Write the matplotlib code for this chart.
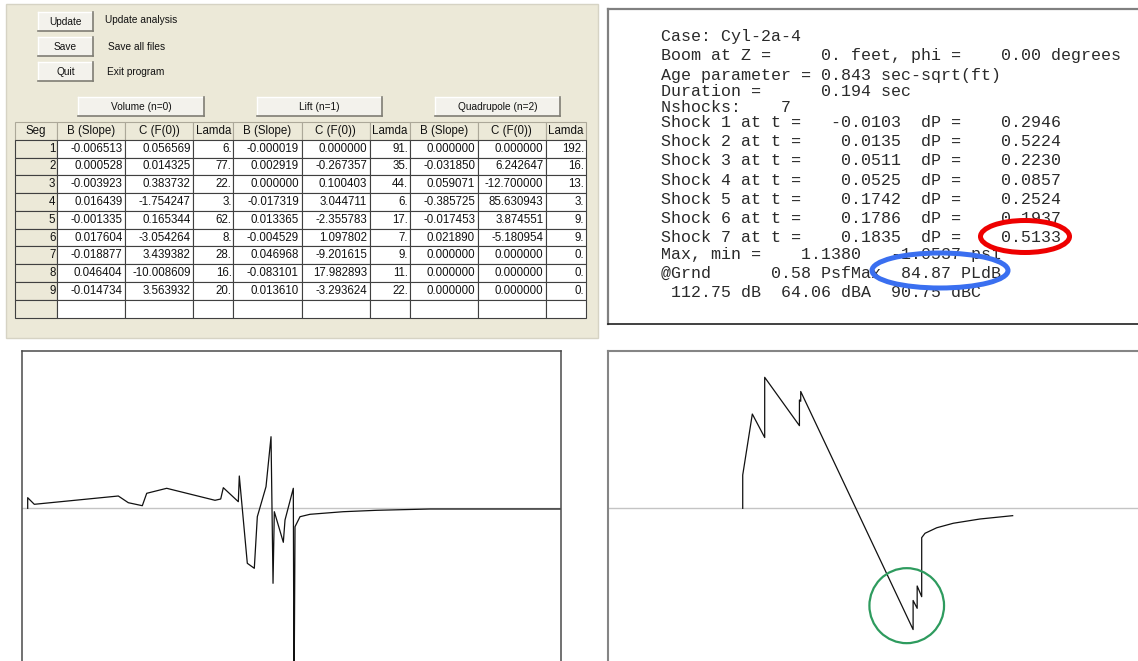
import numpy as np
import matplotlib.pyplot as plt
from matplotlib.patches import Rectangle, Ellipse

W, H = 1138, 661

# Coefficient table (Volume n=0, Lift n=1, Quadrupole n=2)
seg = [1, 2, 3, 4, 5, 6, 7, 8, 9]
b_vol = [-0.006513, 0.000528, -0.003923, 0.016439, -0.001335, 0.017604, -0.018877, 0.046404, -0.014734]
c_vol = [0.056569, 0.014325, 0.383732, -1.754247, 0.165344, -3.054264, 3.439382, -10.008609, 3.563932]
l_vol = [6, 77, 22, 3, 62, 8, 28, 16, 20]
b_lift = [-0.000019, 0.002919, 0.000000, -0.017319, 0.013365, -0.004529, 0.046968, -0.083101, 0.013610]
c_lift = [0.000000, -0.267357, 0.100403, 3.044711, -2.355783, 1.097802, -9.201615, 17.982893, -3.293624]
l_lift = [91, 35, 44, 6, 17, 7, 9, 11, 22]
b_quad = [0.000000, -0.031850, 0.059071, -0.385725, -0.017453, 0.021890, 0.000000, 0.000000, 0.000000]
c_quad = [0.000000, 6.242647, -12.700000, 85.630943, 3.874551, -5.180954, 0.000000, 0.000000, 0.000000]
l_quad = [192, 16, 13, 3, 9, 9, 0, 0, 0]
col_labels = ["Seg", "B (Slope)", "C (F(0))", "Lamda", "B (Slope)", "C (F(0))", "Lamda",
              "B (Slope)", "C (F(0))", "Lamda"]

# Boom summary
case_name = "Cyl-2a-4"
boom_z = 0
phi = 0.00
age_param = 0.843
duration = 0.194
shock_t = [-0.0103, 0.0135, 0.0511, 0.0525, 0.1742, 0.1786, 0.1835]
shock_dp = [0.2946, 0.5224, 0.2230, 0.0857, 0.2524, 0.1937, 0.5133]
p_max, p_min = 1.1380, -1.0537
psf_max = 0.58
pldb = 84.87
db, dba, dbc = 112.75, 64.06, 90.75

# F-function (bottom left)
f_x = [0, 0, 2.54, 34.85, 38.69, 44.08, 45.77, 53.46, 72.04, 74.23, 75.23, 81.0, 81.38, 84.46,
       87.15, 88.31, 91.65, 93.58, 94.35, 94.85, 98.31, 98.96, 102.15, 102.42, 102.81, 104.73,
       108.58, 121.38, 134.23, 154.73, 210]
f_y = [0, 0.212, 0.08, 0.246, 0.112, 0.052, 0.30, 0.40, 0.16, 0.186, 0.412, 0.132, 0.646, -1.10,
       -1.20, -0.168, 0.432, 1.432, -1.50, -0.068, -0.68, -0.234, 0.40, -4.0, -0.368, -0.168,
       -0.12, -0.068, -0.04, -0.014, -0.014]

# Ground signature (bottom right), t in sec, p in psf
sig_t = [-0.0103, -0.0103, 0.0001, 0.0135, 0.0135, 0.0511, 0.0511, 0.0525, 0.0525, 0.1742,
         0.1742, 0.1786, 0.1786, 0.1835, 0.1835, 0.1871, 0.1998, 0.2177, 0.2466, 0.2820]
sig_p = [0.0, 0.289, 0.819, 0.615, 1.138, 0.718, 0.941, 0.930, 1.015, -1.0537,
         -0.801, -0.869, -0.675, -0.768, -0.255, -0.217, -0.169, -0.130, -0.093, -0.064]


def box(x0, y0, x1, y1):
    # pixel box (top-left origin) -> figure fraction
    return [x0 / W, 1 - y1 / H, (x1 - x0) / W, (y1 - y0) / H]


def button(ax, x0, y0, x1, y1, label):
    ax.add_patch(Rectangle((x0, y0), x1 - x0, y1 - y0, facecolor="#f3f2ec", edgecolor="none"))
    ax.plot([x0, x1], [y0, y0], color="white", lw=1)
    ax.plot([x0, x0], [y0, y1], color="white", lw=1)
    ax.plot([x0, x1], [y1, y1], color="#7f7d74", lw=1.2)
    ax.plot([x1, x1], [y0, y1], color="#7f7d74", lw=1.2)
    ax.text((x0 + x1) / 2, (y0 + y1) / 2 + 0.5, label, ha="center", va="center",
            fontsize=7.3, family="Liberation Sans", color="#111111")


fig = plt.figure(figsize=(W / 100, H / 100), dpi=100)

bg = fig.add_axes([0, 0, 1, 1], zorder=0)
bg.set_xlim(0, W)
bg.set_ylim(H, 0)
bg.axis("off")

# GUI panel
bg.add_patch(Rectangle((6, 4), 592, 334, facecolor="#ece9d8", edgecolor="#d6d3c4", lw=1))
button(bg, 38, 12, 93, 31, "Update")
button(bg, 38, 37, 93, 56, "Save")
button(bg, 38, 62, 93, 81, "Quit")
for lx, ly, txt in [(105, 20, "Update analysis"), (108, 47, "Save all files"), (107, 72, "Exit program")]:
    bg.text(lx, ly, txt, ha="left", va="center", fontsize=7.3, family="Liberation Sans", color="#111111")
button(bg, 78, 97, 204, 116, "Volume (n=0)")
button(bg, 257, 97, 382, 116, "Lift (n=1)")
button(bg, 435, 97, 560, 116, "Quadrupole (n=2)")

# coefficient table
tab_ax = fig.add_axes(box(15, 122, 586, 317.5), zorder=1)
tab_ax.axis("off")
rows = []
for i in range(len(seg)):
    rows.append([str(seg[i]),
                 f"{b_vol[i]:.6f}", f"{c_vol[i]:.6f}", f"{l_vol[i]}.",
                 f"{b_lift[i]:.6f}", f"{c_lift[i]:.6f}", f"{l_lift[i]}.",
                 f"{b_quad[i]:.6f}", f"{c_quad[i]:.6f}", f"{l_quad[i]}."])
rows.append([""] * len(col_labels))
col_w = [42, 68, 68, 40, 68, 68, 40, 68, 68, 40]
tbl = tab_ax.table(cellText=rows, colLabels=col_labels, colWidths=[w / sum(col_w) for w in col_w],
                   bbox=[0, 0, 1, 1], cellLoc="right", colLoc="center")
tbl.auto_set_font_size(False)
tbl.set_fontsize(8.3)
for (r, c), cell in tbl.get_celld().items():
    cell.PAD = 0.04
    cell.set_linewidth(0.8)
    cell.get_text().set_fontfamily("Liberation Sans")
    cell.get_text().set_color("#111111")
    if r == 0:
        cell.set_facecolor("#ece9d8")
        cell.set_edgecolor("#aca899")
    elif c == 0:
        cell.set_facecolor("#ece9d8")
        cell.set_edgecolor("#404040")
    else:
        cell.set_facecolor("white")
        cell.set_edgecolor("#404040")

# summary text box
bg.plot([607.7, 607.7], [9, 324], color="#808080", lw=1.6)
bg.plot([607.7, W], [9, 9], color="#808080", lw=1.6)
bg.plot([607.7, W], [324, 324], color="#202020", lw=1.2)

lines = [f"Case: {case_name}",
         f"Boom at Z = {boom_z:5d}. feet, phi = {phi:7.2f} degrees",
         f"Age parameter = {age_param:.3f} sec-sqrt(ft)",
         f"Duration =      {duration:.3f} sec",
         f"Nshocks:    {len(shock_t)}"]
for i, (t, dp) in enumerate(zip(shock_t, shock_dp)):
    lines.append(f"Shock {i + 1} at t = {t:9.4f}  dP = {dp:9.4f}")
lines.append(f"Max, min =    {p_max:.4f}   {p_min:.4f} psi")
lines.append(f"@Grnd      {psf_max:.2f} PsfMax  {pldb:.2f} PLdB")
lines.append(f" {db:.2f} dB  {dba:.2f} dBA  {dbc:.2f} dBC")
line_y = [35.7, 54.4, 74.1, 90.8, 106.4, 121.3, 140.4, 159.8, 179.1, 198.2, 217.5, 236.2,
          253.2, 271.9, 291.6]
for txt, y in zip(lines, line_y):
    bg.text(661, y + 5.5, txt, ha="left", va="baseline", fontsize=12,
            family="Liberation Mono", color="#2a2a2a")

# F-function plot
ax1 = fig.add_axes(box(22, 351, 561, 670), zorder=2)
ax1.axhline(0, color="#c4c4c4", lw=1, zorder=1)
ax1.plot(f_x, f_y, color="#111111", lw=0.9, zorder=2)
ax1.set_xlim(-2.19, 205.1)
ax1.set_ylim(-3.234, 3.146)
ax1.set_xticks([])
ax1.set_yticks([])
for s in ["left", "top", "right"]:
    ax1.spines[s].set_color("#4a4a4a")
    ax1.spines[s].set_linewidth(1.1)
ax1.spines["bottom"].set_visible(False)

# ground signature plot
ax2 = fig.add_axes(box(607.7, 351, 1145, 670), zorder=2)
ax2.axhline(0, color="#c4c4c4", lw=1, zorder=1)
ax2.plot(sig_t, sig_p, color="#111111", lw=0.9, zorder=2)
ax2.set_xlim(-0.1565, 0.4253)
ax2.set_ylim(-1.405, 1.3667)
ax2.set_xticks([])
ax2.set_yticks([])
for s in ["left", "top"]:
    ax2.spines[s].set_color("#858585")
    ax2.spines[s].set_linewidth(1.5)
ax2.spines["right"].set_visible(False)
ax2.spines["bottom"].set_visible(False)
ax2.add_patch(Ellipse((0.1673, -0.846), 0.0808, 0.6516, fill=False, edgecolor="#2e9b5e", lw=1.6, zorder=3))

# highlight ellipses on the summary text
fg = fig.add_axes([0, 0, 1, 1], zorder=5)
fg.set_xlim(0, W)
fg.set_ylim(H, 0)
fg.axis("off")
fg.patch.set_alpha(0)
fg.add_patch(Ellipse((1025, 236.5), 89, 32, fill=False, edgecolor="#ee0000", lw=3.6))
fg.add_patch(Ellipse((940, 270.5), 136, 35, fill=False, edgecolor="#3a6ff0", lw=3.6))

fig.savefig("out.png", dpi=100)
